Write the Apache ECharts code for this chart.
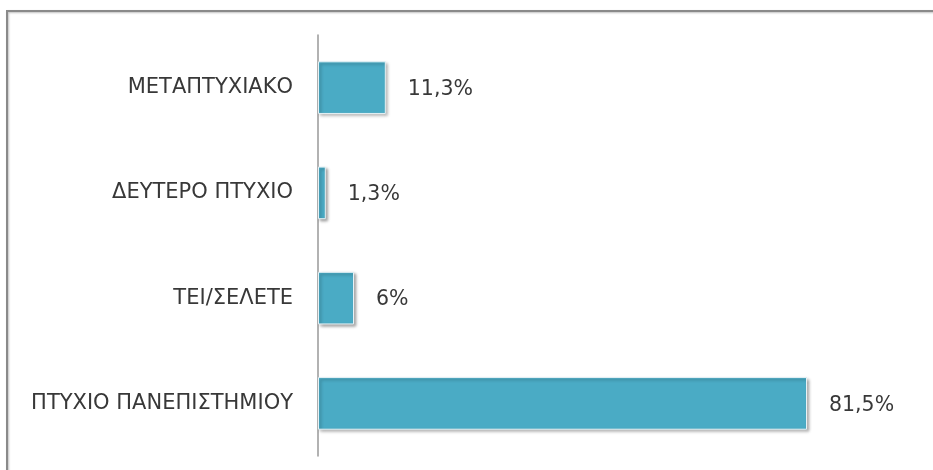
<!DOCTYPE html>
<html>
<head>
<meta charset="utf-8">
<script src="https://cdn.jsdelivr.net/npm/echarts@6/dist/echarts.min.js"></script>
<style>html,body{margin:0;padding:0;background:#fff}#c{width:933px;height:470px}</style>
</head>
<body>
<div id="c"></div>
<script>
const categories = ['ΜΕΤΑΠΤΥΧΙΑΚΟ', 'ΔΕΥΤΕΡΟ ΠΤΥΧΙΟ', 'ΤΕΙ/ΣΕΛΕΤΕ', 'ΠΤΥΧΙΟ ΠΑΝΕΠΙΣΤΗΜΙΟΥ'];
const values = [11.3, 1.3, 6, 81.5];
const valueLabels = ['11,3%', '1,3%', '6%', '81,5%'];

const chart = echarts.init(document.getElementById('c'), null, {renderer: 'canvas'});
chart.setOption({
  animation: false,
  backgroundColor: '#ffffff',
  graphic: [{
    type: 'rect',
    shape: {x: 7, y: 11, width: 1000, height: 500},
    style: {fill: 'none', stroke: '#8a8a8a', lineWidth: 2, shadowColor: 'rgba(0,0,0,0.25)', shadowBlur: 2, shadowOffsetX: 1, shadowOffsetY: 1},
    silent: true,
    z: -1
  }],
  grid: {left: 318, right: 15, top: 35, bottom: 14, containLabel: false},
  xAxis: {
    type: 'value', min: 0, max: 100,
    show: false
  },
  yAxis: {
    type: 'category', data: categories, inverse: true,
    axisLine: {show: true, lineStyle: {color: '#999999', width: 1.5}},
    axisTick: {show: false},
    axisLabel: {color: '#383838', fontFamily: 'DejaVu Sans', fontSize: 21, margin: 25, padding: [4, 0, 0, 0]}
  },
  series: [{
    type: 'bar',
    data: values,
    barWidth: '50%',
    itemStyle: {
      color: '#4aabc5',
      borderColor: '#e6f2f6',
      borderWidth: 1,
      shadowColor: 'rgba(0,0,0,0.35)',
      shadowBlur: 3,
      shadowOffsetX: 2,
      shadowOffsetY: 2
    },
    label: {
      show: true, position: 'right', distance: 22, offset: [0, 2],
      color: '#383838', fontFamily: 'DejaVu Sans', fontSize: 20.5,
      formatter: p => valueLabels[p.dataIndex]
    }
  }]
});
</script>
</body>
</html>
